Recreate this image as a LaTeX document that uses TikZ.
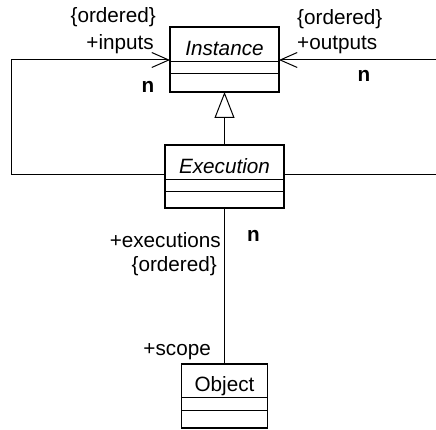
\documentclass[tikz,border=0pt]{standalone}
\usepackage{fontspec}
\setmainfont{Liberation Sans}
\usetikzlibrary{positioning}
\usetikzlibrary{arrows.meta}
\newcommand{\umlfont}{\fontsize{20.7}{24}\selectfont}
\tikzset{
  compart/.style={draw, line width=1pt, inner sep=0pt, outer sep=0pt, minimum width=#1},
  clsname/.style={compart=#1, minimum height=35pt, text height=22pt, text depth=0pt},
  abstract/.style={font=\umlfont\itshape},
  frame/.style={line width=1.6pt},
  assoc/.style={line width=1pt},
  navi/.style={assoc, -{Straight Barb[length=17pt,width=15pt]}},
  gen/.style={assoc, -{Triangle[open,length=26pt,width=20pt,line width=1pt]}},
  role/.style={inner sep=0pt},
  mult/.style={inner sep=0pt, font=\umlfont\bfseries},
}
\begin{document}
\begin{tikzpicture}[x=1pt,y=-1pt,every node/.append style={font=\umlfont}]
    \useasboundingbox (0,0) rectangle (436,430);
    \node[clsname=109pt, abstract] (InstN) at (224.5,44.5) {Instance};
    \node[compart=109pt, minimum height=12pt, below=0pt of InstN] (InstA) {};
    \node[compart=109pt, minimum height=18pt, below=0pt of InstA] (InstO) {};
    \node[clsname=119pt, abstract] (ExecN) at (224.5,162.5) {Execution};
    \node[compart=119pt, minimum height=12pt, below=0pt of ExecN] (ExecA) {};
    \node[compart=119pt, minimum height=16pt, below=0pt of ExecA] (ExecO) {};
    \node[clsname=86pt, minimum height=33pt] (ObjN) at (224.5,380.5) {Object};
    \node[compart=86pt, minimum height=13pt, below=0pt of ObjN] (ObjA) {};
    \node[compart=86pt, minimum height=18pt, below=0pt of ObjA] (ObjO) {};
    \draw[frame] (InstN.north west) rectangle (InstO.south east);
    \draw[frame] (ExecN.north west) rectangle (ExecO.south east);
    \draw[frame] (ObjN.north west) rectangle (ObjO.south east);
    \coordinate (LoopTL) at (11,60);
    \coordinate (LoopBL) at (11,175);
    \coordinate (OutT) at (436,60);
    \coordinate (OutB) at (436,175);
    \draw[navi] (ExecN.west |- LoopBL) -- (LoopBL) -- (LoopTL) -- (InstN.west |- LoopTL);
    \draw[navi] (OutT) -- (InstN.east |- OutT);
    \draw[assoc] (ExecN.east |- OutB) -- (OutB);
    \draw[gen] (ExecN.north) -- (InstO.south);
    \draw[assoc] (ExecO.south) -- (ObjN.north);
    \node[role, anchor=base east] (InOrd) at (156,22.5) {\{ordered\}};
    \node[role, anchor=base east] (InRole) at (154,50) {+inputs};
    \node[mult, anchor=base] (InMult) at (148,93) {n};
    \node[role, anchor=base west] (OutOrd) at (297,25) {\{ordered\}};
    \node[role, anchor=base west] (OutRole) at (297,50) {+outputs};
    \node[mult, anchor=base] (OutMult) at (364,82) {n};
    \node[role, anchor=base east] (ExRole) at (221,247.5) {+executions};
    \node[role, anchor=base east] (ExOrd) at (217,271.5) {\{ordered\}};
    \node[mult, anchor=base] (ExMult) at (253.5,241.5) {n};
    \node[role, anchor=base east] (ScopeRole) at (211,355.5) {+scope};
\end{tikzpicture}
\end{document}
